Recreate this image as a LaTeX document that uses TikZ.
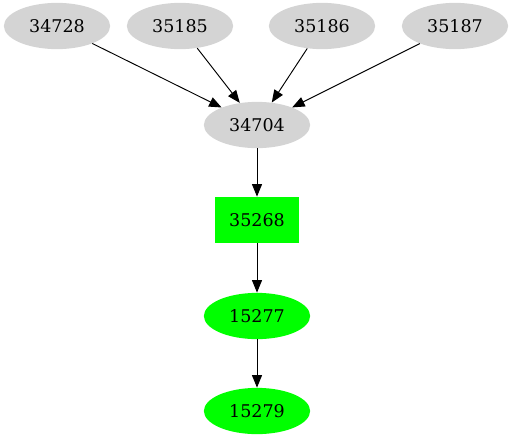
\documentclass[tikz,border=0pt]{standalone}
\usepackage{fontspec}
\setmainfont{DejaVu Serif}
\usetikzlibrary{arrows.meta, shapes.geometric}

\begin{document}
\begin{tikzpicture}[
        x=1pt, y=1pt,
        >={Triangle[length=10pt, width=8pt]},
        graynode/.style={ellipse, fill=black!17, minimum width=85pt, minimum height=37pt, inner sep=0pt, font=\fontsize{14}{16}\selectfont},
        greennode/.style={ellipse, fill=green, minimum width=85pt, minimum height=37pt, inner sep=0pt, font=\fontsize{14}{16}\selectfont},
        greenbox/.style={rectangle, fill=green, minimum width=67pt, minimum height=37pt, inner sep=0pt, font=\fontsize{14}{16}\selectfont},
        connect/.style={draw, ->, black, line width=0.75pt}
    ]
    \useasboundingbox (0,0) rectangle (411.2,354.4);

    % top row
    \node[graynode] (n34728) at (45.6, 333.6) {34728};
    \node[graynode] (n35185) at (144, 333.6) {35185};
    \node[graynode] (n35186) at (257.6, 333.6) {35186};
    \node[graynode] (n35187) at (364, 333.6) {35187};

    % middle
    \node[graynode] (n34704) at (205.6, 254.4) {34704};
    \node[greenbox] (n35268) at (205.6, 178.4) {35268};

    % bottom
    \node[greennode] (n15277) at (205.6, 101.6) {15277};
    \node[greennode] (n15279) at (205.6, 25.6) {15279};

    % edges
    \foreach \i in {n34728, n35185, n35186, n35187} {
        \path[connect] (\i) -- (n34704);
    }
    \path[connect] (n34704) -- (n35268);
    \path[connect] (n35268) -- (n15277);
    \path[connect] (n15277) -- (n15279);

\end{tikzpicture}
\end{document}
